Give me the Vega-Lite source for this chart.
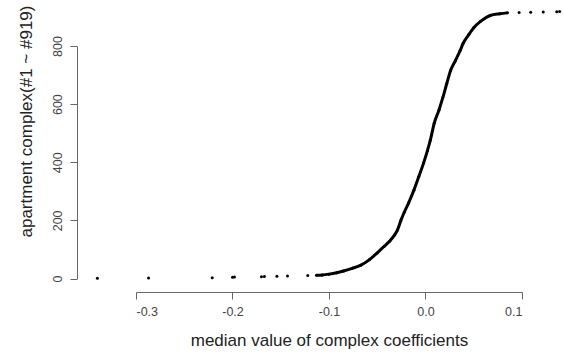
{
  "$schema": "https://vega.github.io/schema/vega-lite/v6.json",
  "autosize": "none",
  "padding": {"left": 136, "top": 46, "right": 42, "bottom": 80},
  "width": 386,
  "height": 232.5,
  "background": "white",
  "config": {"view": {"stroke": null}, "font": "Liberation Sans"},
  "data": {"values": [
    {"v": -0.340, "i": 1, "p": "t"},
    {"v": -0.287, "i": 2, "p": "t"},
    {"v": -0.221, "i": 3, "p": "t"},
    {"v": -0.200, "i": 4, "p": "t"},
    {"v": -0.198, "i": 5, "p": "t"},
    {"v": -0.170, "i": 6, "p": "t"},
    {"v": -0.167, "i": 7, "p": "t"},
    {"v": -0.154, "i": 8, "p": "t"},
    {"v": -0.143, "i": 9, "p": "t"},
    {"v": -0.122, "i": 10, "p": "t"},
    {"v": -0.113, "i": 11, "p": "c"},
    {"v": -0.107, "i": 12, "p": "c"},
    {"v": -0.100, "i": 15, "p": "c"},
    {"v": -0.092, "i": 20, "p": "c"},
    {"v": -0.085, "i": 26, "p": "c"},
    {"v": -0.076, "i": 35, "p": "c"},
    {"v": -0.067, "i": 46, "p": "c"},
    {"v": -0.058, "i": 65, "p": "c"},
    {"v": -0.050, "i": 88, "p": "c"},
    {"v": -0.043, "i": 110, "p": "c"},
    {"v": -0.037, "i": 129, "p": "c"},
    {"v": -0.032, "i": 150, "p": "c"},
    {"v": -0.029, "i": 167, "p": "c"},
    {"v": -0.0255, "i": 200, "p": "c"},
    {"v": -0.022, "i": 228, "p": "c"},
    {"v": -0.0175, "i": 260, "p": "c"},
    {"v": -0.012, "i": 304, "p": "c"},
    {"v": -0.007, "i": 350, "p": "c"},
    {"v": -0.002, "i": 397, "p": "c"},
    {"v": 0.002, "i": 440, "p": "c"},
    {"v": 0.005, "i": 476, "p": "c"},
    {"v": 0.009, "i": 534, "p": "c"},
    {"v": 0.014, "i": 580, "p": "c"},
    {"v": 0.018, "i": 623, "p": "c"},
    {"v": 0.022, "i": 670, "p": "c"},
    {"v": 0.026, "i": 716, "p": "c"},
    {"v": 0.031, "i": 750, "p": "c"},
    {"v": 0.036, "i": 785, "p": "c"},
    {"v": 0.039, "i": 809, "p": "c"},
    {"v": 0.045, "i": 840, "p": "c"},
    {"v": 0.050, "i": 863, "p": "c"},
    {"v": 0.057, "i": 885, "p": "c"},
    {"v": 0.067, "i": 905, "p": "c"},
    {"v": 0.077, "i": 911, "p": "c"},
    {"v": 0.085, "i": 914, "p": "c"},
    {"v": 0.097, "i": 915, "p": "t"},
    {"v": 0.109, "i": 916, "p": "t"},
    {"v": 0.122, "i": 917, "p": "t"},
    {"v": 0.136, "i": 918, "p": "t"},
    {"v": 0.139, "i": 919, "p": "t"}
  ]},
  "encoding": {
    "x": {"field": "v", "type": "quantitative",
      "scale": {"domain": [-0.3, 0.1], "nice": false, "zero": false},
      "axis": {
        "values": [-0.3, -0.2, -0.1, 0, 0.1],
        "labelExpr": "datum.value < 0 ? '-' + format(-datum.value, '.1f') : format(datum.value, '.1f')",
        "offset": 13.5, "grid": false,
        "domainColor": "#666", "tickColor": "#666", "tickSize": 7, "tickWidth": 1, "domainWidth": 1,
        "labelColor": "#444", "labelFontSize": 12.5, "labelPadding": 6,
        "title": "median value of complex coefficients",
        "titleFontSize": 17, "titleFontWeight": "normal", "titleColor": "#222", "titlePadding": 15
      }},
    "y": {"field": "i", "type": "quantitative",
      "scale": {"domain": [0, 800], "nice": false, "zero": false},
      "axis": {
        "values": [0, 200, 400, 600, 800],
        "offset": 59, "grid": false,
        "domainColor": "#666", "tickColor": "#666", "tickSize": 7, "tickWidth": 1, "domainWidth": 1,
        "labelColor": "#444", "labelFontSize": 12.5, "labelPadding": 6,
        "labelAngle": -90, "labelAlign": "center", "labelBaseline": "bottom",
        "title": "apartment complex(#1 ~ #919)",
        "titleFontSize": 17, "titleFontWeight": "normal", "titleColor": "#222", "titlePadding": 16,
        "titleY": 75
      }}
  },
  "layer": [
    {"transform": [{"filter": "datum.p == 'c'"}],
     "mark": {"type": "line", "color": "black", "strokeWidth": 3, "clip": false, "interpolate": "monotone"}},
    {"mark": {"type": "point", "filled": true, "color": "black", "size": 9, "opacity": 1, "clip": false}}
  ]
}
